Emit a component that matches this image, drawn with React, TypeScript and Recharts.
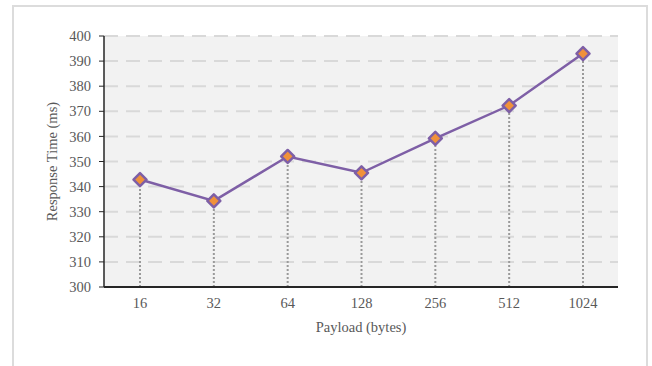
import React from "react";
import {
  LineChart,
  Line,
  XAxis,
  YAxis,
  CartesianGrid,
  ReferenceLine,
} from "recharts";

// Payload sizes (bytes) and measured response times (ms)
const payloads = ["16", "32", "64", "128", "256", "512", "1024"];
const responseMs = [342.8, 334.3, 352.0, 345.5, 359.2, 372.3, 393.0];
const yTicks = [300, 310, 320, 330, 340, 350, 360, 370, 380, 390, 400];

const data = payloads.map((p, i) => ({ payload: p, ms: responseMs[i] }));

const FONT = "'Liberation Serif', 'DejaVu Serif', serif";
const TEXT = "#595959";
const PURPLE = "#7e5fa6";
const ORANGE = "#f0913a";

const Diamond = (props: any) => {
  const { cx, cy, index } = props;
  if (cx == null || cy == null) return null;
  const r = 6.5;
  return (
    <path
      key={`d-${index}`}
      d={`M${cx},${cy - r} L${cx + r},${cy} L${cx},${cy + r} L${cx - r},${cy} Z`}
      fill={ORANGE}
      stroke={PURPLE}
      strokeWidth={2.5}
      strokeLinejoin="round"
    />
  );
};

export default function App() {
  return (
    <div
      style={{
        position: "absolute",
        left: 0,
        top: 0,
        width: 652,
        height: 366,
        overflow: "hidden",
        background: "#fff",
      }}
    >
      <div
        style={{
          position: "absolute",
          left: 12,
          top: 5,
          width: 636,
          height: 420,
          boxSizing: "border-box",
          border: "2px solid #dcdcdc",
        }}
      />
      <div style={{ position: "absolute", left: 0, top: 0 }}>
        <LineChart
          width={652}
          height={366}
          data={data}
          margin={{ top: 36, right: 34, bottom: 0, left: 14 }}
        >
          <CartesianGrid
            vertical={false}
            stroke="#d9d9d9"
            strokeWidth={2}
            strokeDasharray="14 8"
            fill="#f2f2f2"
          />
          <XAxis
            dataKey="payload"
            height={79}
            padding={{ left: 36, right: 35 }}
            tickLine={false}
            tickSize={0}
            tickMargin={11}
            axisLine={{ stroke: "#262626", strokeWidth: 2 }}
            tick={{ fill: TEXT, fontSize: 14.5, fontFamily: FONT }}
            label={{
              value: "Payload (bytes)",
              position: "insideBottom",
              offset: 34,
              fill: TEXT,
              fontSize: 14.5,
              fontFamily: FONT,
            }}
          />
          <YAxis
            width={90}
            domain={[300, 400]}
            ticks={yTicks}
            interval={0}
            tickSize={5}
            tickMargin={8}
            tickLine={{ stroke: "#262626" }}
            axisLine={{ stroke: "#262626", strokeWidth: 1.5 }}
            tick={{ fill: TEXT, fontSize: 14.5, fontFamily: FONT }}
            label={{
              value: "Response Time (ms)",
              angle: -90,
              position: "insideLeft",
              offset: 38,
              fill: TEXT,
              fontSize: 14.5,
              fontFamily: FONT,
              style: { textAnchor: "middle" },
            }}
          />
          {data.map((d) => (
            <ReferenceLine
              key={`drop-${d.payload}`}
              segment={[
                { x: d.payload, y: 300 },
                { x: d.payload, y: d.ms },
              ]}
              stroke="#9a9a9a"
              strokeWidth={2}
              strokeDasharray="2 2"
              ifOverflow="visible"
            />
          ))}
          <Line
            type="linear"
            dataKey="ms"
            stroke={PURPLE}
            strokeWidth={2.5}
            dot={<Diamond />}
            activeDot={false}
            isAnimationActive={false}
          />
        </LineChart>
      </div>
    </div>
  );
}
